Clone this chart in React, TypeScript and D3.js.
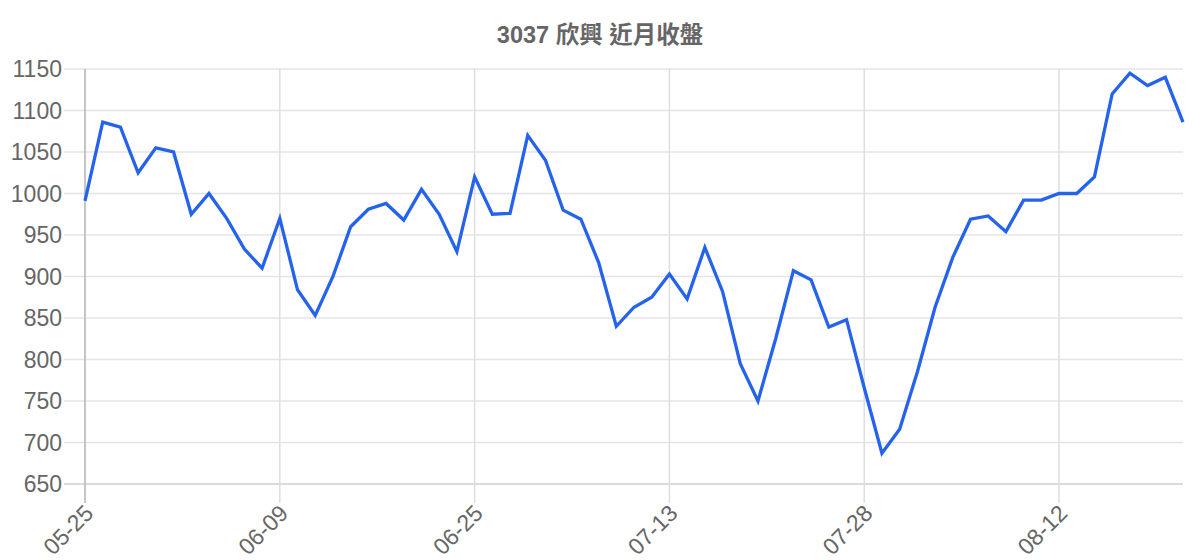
import React, { useEffect, useRef } from 'react';
import * as d3 from 'd3';

// trading days (MM-DD) and daily close prices
const dates: string[] = [
	'05-25', '05-26', '05-29', '05-30', '05-31', '06-01', '06-02', '06-05', '06-06', '06-07', '06-08',
	'06-09', '06-12', '06-13', '06-14', '06-15', '06-16', '06-19', '06-20', '06-21', '06-23', '06-24',
	'06-25', '06-27', '06-28', '06-29', '06-30', '07-03', '07-04', '07-05', '07-06', '07-10', '07-11',
	'07-13', '07-14', '07-17', '07-18', '07-19', '07-20', '07-21', '07-24', '07-25', '07-26', '07-27',
	'07-28', '07-31', '08-01', '08-02', '08-03', '08-04', '08-07', '08-08', '08-09', '08-10', '08-11',
	'08-12', '08-14', '08-15', '08-16', '08-17', '08-18', '08-21', '08-22',
];

const closes: number[] = [
	991, 1086, 1080, 1025, 1055, 1050, 975, 1000, 970, 933, 910,
	970, 884, 853, 900, 960, 981, 988, 968, 1005, 975, 930,
	1020, 975, 976, 1070, 1040, 980, 969, 917, 840, 863, 875,
	903, 873, 935, 882, 795, 750, 825, 907, 896, 839, 848,
	766, 687, 716, 785, 863, 923, 969, 973, 954, 992, 992,
	1000, 1000, 1020, 1120, 1145, 1130, 1140, 1086,
];

const yTicks: number[] = [650, 700, 750, 800, 850, 900, 950, 1000, 1050, 1100, 1150];
const xTickLabels: string[] = ['05-25', '06-09', '06-25', '07-13', '07-28', '08-12'];

const title = '3037 欣興 近月收盤';

const W = 1200;
const H = 560;
const margin = { top: 69, right: 17, bottom: 76, left: 85 };
const FONT = '"Liberation Sans", Arial, "Noto Sans CJK TC", sans-serif';

const App: React.FC = () => {
	const ref = useRef<SVGSVGElement>(null);

	useEffect(() => {
		if (!ref.current) return;
		const svg = d3.select(ref.current);
		svg.selectAll('*').remove();

		const width = W - margin.left - margin.right;
		const height = H - margin.top - margin.bottom;

		// --- Scales ---
		const x = d3.scalePoint<string>().domain(dates).range([0, width]);
		const y = d3.scaleLinear().domain([650, 1150]).range([height, 0]);

		const g = svg
			.append('g')
			.attr('transform', `translate(${margin.left},${margin.top})`);

		// --- Grid ---
		g.append('g')
			.selectAll('line')
			.data(yTicks)
			.enter()
			.append('line')
			.attr('x1', -21)
			.attr('x2', width)
			.attr('y1', (d) => y(d))
			.attr('y2', (d) => y(d))
			.attr('stroke', (d) => (d === 650 ? '#cfcfcf' : '#e4e4e4'))
			.attr('stroke-width', 1.5);

		g.append('g')
			.selectAll('line')
			.data(xTickLabels)
			.enter()
			.append('line')
			.attr('x1', (d) => x(d)!)
			.attr('x2', (d) => x(d)!)
			.attr('y1', 0)
			.attr('y2', height + 19)
			.attr('stroke', (d, i) => (i === 0 ? '#b3b3b3' : '#dedede'))
			.attr('stroke-width', 1.5);

		// --- Axes labels ---
		g.append('g')
			.selectAll('text')
			.data(yTicks)
			.enter()
			.append('text')
			.attr('x', -23)
			.attr('y', (d) => y(d))
			.attr('dy', '0.35em')
			.attr('text-anchor', 'end')
			.attr('font-family', FONT)
			.attr('font-size', 23)
			.attr('fill', '#666')
			.text((d) => d);

		g.append('g')
			.selectAll('text')
			.data(xTickLabels)
			.enter()
			.append('text')
			.attr('transform', (d) => `translate(${x(d)! + 4},${height + 25}) rotate(-45)`)
			.attr('dy', '0.35em')
			.attr('text-anchor', 'end')
			.attr('font-family', FONT)
			.attr('font-size', 23)
			.attr('fill', '#666')
			.text((d) => d);

		// --- Line ---
		const line = d3
			.line<number>()
			.x((d, i) => x(dates[i])!)
			.y((d) => y(d));

		g.append('path')
			.datum(closes)
			.attr('d', line)
			.attr('fill', 'none')
			.attr('stroke', '#2563eb')
			.attr('stroke-width', 3.3)
			.attr('stroke-linejoin', 'miter');

		// --- Title ---
		svg
			.append('text')
			.attr('x', W / 2)
			.attr('y', 35)
			.attr('dy', '0.35em')
			.attr('text-anchor', 'middle')
			.attr('font-family', FONT)
			.attr('font-size', 23.5)
			.attr('font-weight', 'bold')
			.attr('fill', '#666')
			.text(title);
	}, []);

	return (
		<div style={{ position: 'absolute', left: 0, top: 0 }}>
			<svg ref={ref} width={W} height={H} style={{ display: 'block', background: '#fff' }} />
		</div>
	);
};

export default App;
